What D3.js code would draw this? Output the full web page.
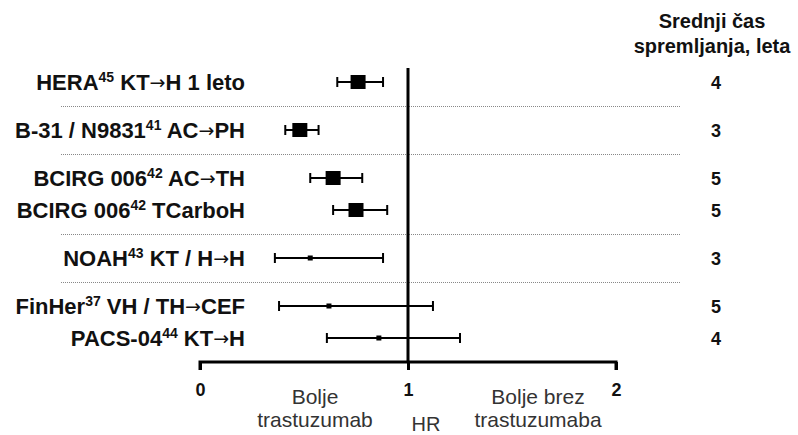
<!DOCTYPE html>
<html><head><meta charset="utf-8">
<script src="https://cdn.jsdelivr.net/npm/d3@7"></script>
<style>
body{margin:0;background:#fff;}
svg{font-family:"Liberation Sans",Arial,sans-serif;}
</style></head>
<body><svg id="c" width="798" height="435"></svg>
<script>
// ---- data ----
const studyNames = ["HERA", "B-31 / N9831", "BCIRG 006", "BCIRG 006", "NOAH", "FinHer", "PACS-04"];
const refs = ["45", "41", "42", "42", "43", "37", "44"];
const regimenBefore = ["KT", "AC", "AC", "", "KT / H", "VH / TH", "KT"];
const regimenAfter = ["H 1 leto", "PH", "TH", "TCarboH", "H", "CEF", "H"];
const groupIndex = [0, 1, 2, 2, 3, 4, 4];
const hr = [0.76, 0.48, 0.64, 0.75, 0.53, 0.62, 0.86];
const ciLow = [0.66, 0.41, 0.53, 0.64, 0.36, 0.38, 0.61];
const ciHigh = [0.88, 0.57, 0.78, 0.90, 0.88, 1.12, 1.25];
const bigMarker = [true, true, true, true, false, false, false];
const followUp = [4, 3, 5, 5, 3, 5, 4];
const xTicks = [0, 1, 2];
const headerLines = ["Srednji \u010das", "spremljanja, leta"];
const leftNote = ["Bolje", "trastuzumab"];
const rightNote = ["Bolje brez", "trastuzumaba"];
const axisTitle = "HR";

// ---- layout ----
const svg = d3.select("#c");
const x = d3.scaleLinear().domain([0, 2]).range([200, 616]);
const firstY = 82, inStep = 32, groupStep = 48;
const rowY = [];
studyNames.forEach((d, i) => {
  if (i === 0) rowY.push(firstY);
  else rowY.push(rowY[i-1] + (groupIndex[i] === groupIndex[i-1] ? inStep : groupStep));
});
const axisY = 362, topY = 68;
const labelRight = 245, numX = 716;

// separators between groups
for (let i = 1; i < rowY.length; i++) {
  if (groupIndex[i] !== groupIndex[i-1]) {
    const yy = Math.round((rowY[i] + rowY[i-1]) / 2) + 0.5;
    svg.append("line").attr("x1", 61).attr("x2", 680).attr("y1", yy).attr("y2", yy)
      .attr("stroke", "#888").attr("stroke-width", 1).attr("stroke-dasharray", "1,1");
  }
}

// axis
const axisG = svg.append("g").attr("transform", `translate(0,${axisY})`);
const axis = d3.axisBottom(x).tickValues(xTicks).tickFormat(d3.format("d")).tickSize(8).tickPadding(13);
axisG.call(axis);
axisG.select(".domain").attr("d", `M${x(0)},8V0H${x(2)}V8`).attr("stroke", "#000").attr("stroke-width", 3).attr("fill", "none");
axisG.selectAll(".tick line").attr("stroke-width", 3);
axisG.selectAll(".tick text").attr("font-size", 18).attr("font-weight", "bold").attr("fill", "#111")
  .attr("font-family", "'Liberation Sans',Arial,sans-serif");

// reference line at HR=1
svg.append("line").attr("x1", x(1)).attr("x2", x(1)).attr("y1", topY).attr("y2", axisY)
  .attr("stroke", "#000").attr("stroke-width", 3);

// error bars and markers
const rows = svg.append("g").selectAll("g").data(studyNames).join("g");
rows.append("line").attr("x1", (d,i) => x(ciLow[i])).attr("x2", (d,i) => x(ciHigh[i]))
  .attr("y1", (d,i) => rowY[i]).attr("y2", (d,i) => rowY[i]).attr("stroke", "#000").attr("stroke-width", 2);
rows.append("line").attr("x1", (d,i) => x(ciLow[i])).attr("x2", (d,i) => x(ciLow[i]))
  .attr("y1", (d,i) => rowY[i]-5).attr("y2", (d,i) => rowY[i]+5).attr("stroke", "#000").attr("stroke-width", 2);
rows.append("line").attr("x1", (d,i) => x(ciHigh[i])).attr("x2", (d,i) => x(ciHigh[i]))
  .attr("y1", (d,i) => rowY[i]-5).attr("y2", (d,i) => rowY[i]+5).attr("stroke", "#000").attr("stroke-width", 2);
rows.append("rect")
  .attr("x", (d,i) => x(hr[i]) - (bigMarker[i] ? 7.5 : 2.5))
  .attr("y", (d,i) => rowY[i] - (bigMarker[i] ? 7 : 2.5))
  .attr("width", (d,i) => bigMarker[i] ? 15 : 5)
  .attr("height", (d,i) => bigMarker[i] ? 14 : 5)
  .attr("fill", "#000");

// row labels
const lab = svg.append("g").selectAll("text").data(studyNames).join("text")
  .attr("x", labelRight).attr("y", (d,i) => rowY[i] + 8)
  .attr("text-anchor", "end").attr("font-size", 22).attr("font-weight", "bold").attr("fill", "#111");
lab.append("tspan").text(d => d);
lab.append("tspan").attr("dy", -8).attr("font-size", 14).text((d,i) => refs[i]);
lab.each(function(d, i) {
  const t = d3.select(this);
  if (regimenBefore[i]) {
    t.append("tspan").attr("dy", 8).text(" " + regimenBefore[i]);
    t.append("tspan").attr("font-family", "'DejaVu Sans',sans-serif").attr("font-weight", "normal")
      .attr("font-size", 19).attr("dy", -1).text("\u2192");
    t.append("tspan").attr("dy", 1).text(regimenAfter[i]);
  } else {
    t.append("tspan").attr("dy", 8).text(" " + regimenAfter[i]);
  }
});

// follow-up numbers
svg.append("g").selectAll("text").data(followUp).join("text")
  .attr("x", numX).attr("y", (d,i) => rowY[i] + 7).attr("text-anchor", "middle")
  .attr("font-size", 18).attr("font-weight", "bold").attr("fill", "#111").text(d => d);

// header
svg.append("g").selectAll("text").data(headerLines).join("text")
  .attr("x", 712).attr("y", (d,i) => 28 + i*25).attr("text-anchor", "middle")
  .attr("font-size", 20).attr("font-weight", "bold").attr("fill", "#111").text(d => d);

// notes
svg.append("g").selectAll("text").data(leftNote).join("text")
  .attr("x", 315).attr("y", (d,i) => 404 + i*23).attr("text-anchor", "middle")
  .attr("font-size", 21).attr("fill", "#333").text(d => d);
svg.append("g").selectAll("text").data(rightNote).join("text")
  .attr("x", 538).attr("y", (d,i) => 404 + i*23).attr("text-anchor", "middle")
  .attr("font-size", 21).attr("fill", "#333").text(d => d);
svg.append("text").attr("x", 426).attr("y", 431).attr("text-anchor", "middle")
  .attr("font-size", 20).attr("fill", "#333").text(axisTitle);
</script></body></html>
